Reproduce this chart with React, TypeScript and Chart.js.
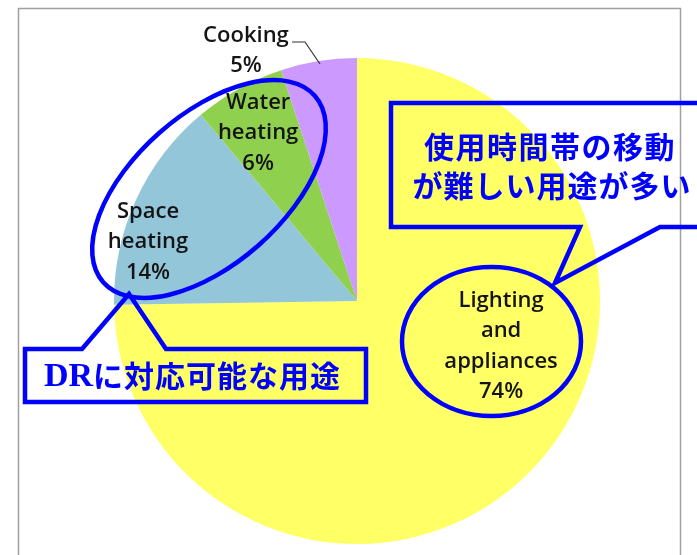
import React, { useEffect, useRef } from "react";
import { Chart, registerables } from "chart.js";

Chart.register(...registerables);

const categories = ["Lighting and appliances", "Space heating", "Water heating", "Cooking"];
const values = [74, 14, 6, 5];
const sliceColors = ["#FFFF66", "#93C6D9", "#8FD14F", "#CC99FF"];
const calloutTopLines = ["使用時間帯の移動", "が難しい用途が多い"];
const calloutBottomLatin = "DR";
const calloutBottomJa = "に対応可能な用途";

// label block centres, as fractions of the pie radius from the pie centre
const labelOffsets = [
  [0.593, 0.187],
  [-0.86, -0.243],
  [-0.407, -0.691],
  [-0.457, -1.03],
];

const annotationPlugin = {
  id: "annotations",
  beforeDraw(chart: any) {
    const ctx = chart.ctx;
    ctx.save();
    ctx.strokeStyle = "#a0a0a0";
    ctx.lineWidth = 1.5;
    ctx.strokeRect(18.5, 8.5, 662, 548);
    ctx.restore();
  },
  afterDraw(chart: any) {
    const ctx = chart.ctx;
    const arc = chart.getDatasetMeta(0).data[0];
    const cx = arc.x;
    const cy = arc.y;
    const r = arc.outerRadius;
    ctx.save();
    // slice labels
    ctx.font = "600 22px 'Open Sans'";
    ctx.fillStyle = "#141414";
    ctx.textAlign = "center";
    ctx.textBaseline = "middle";
    const lh = 30.5;
    categories.forEach((cat, i) => {
      const lines = [...cat.split(" "), `${values[i]}%`];
      const bx = cx + labelOffsets[i][0] * r;
      const by = cy + labelOffsets[i][1] * r;
      lines.forEach((ln, k) => {
        ctx.fillText(ln, bx, by + (k - (lines.length - 1) / 2) * lh);
      });
    });
    // leader line for Cooking
    ctx.strokeStyle = "#333";
    ctx.lineWidth = 1.2;
    ctx.beginPath();
    ctx.moveTo(292, 42);
    ctx.lineTo(305, 42);
    ctx.lineTo(320, 64);
    ctx.stroke();

    // blue annotations
    ctx.strokeStyle = "#0000FF";
    ctx.lineWidth = 4.5;
    ctx.lineJoin = "miter";
    ctx.beginPath();
    ctx.ellipse(209, 189, 141, 75, (-41.4 * Math.PI) / 180, 0, Math.PI * 2);
    ctx.stroke();
    ctx.beginPath();
    ctx.ellipse(491.5, 341.5, 89.5, 74.5, 0, 0, Math.PI * 2);
    ctx.stroke();

    // top callout
    ctx.beginPath();
    ctx.moveTo(391, 103);
    ctx.lineTo(705, 103);
    ctx.lineTo(705, 227);
    ctx.lineTo(660, 227);
    ctx.lineTo(555, 283);
    ctx.lineTo(580, 227);
    ctx.lineTo(391, 227);
    ctx.closePath();
    ctx.stroke();

    // bottom callout
    ctx.beginPath();
    ctx.moveTo(25, 349);
    ctx.lineTo(82, 349);
    ctx.lineTo(129, 294);
    ctx.lineTo(166, 349);
    ctx.lineTo(366, 349);
    ctx.lineTo(366, 402);
    ctx.lineTo(25, 402);
    ctx.closePath();
    ctx.stroke();

    ctx.fillStyle = "#0000FF";
    ctx.font = "bold 30px 'Noto Sans CJK JP'";
    ctx.textAlign = "center";
    (ctx as any).letterSpacing = "1.5px";
    ctx.fillText(calloutTopLines[0], 550, 147);
    (ctx as any).letterSpacing = "1px";
    ctx.fillText(calloutTopLines[1], 552, 186);

    ctx.textAlign = "left";
    (ctx as any).letterSpacing = "0px";
    ctx.font = "bold 34px 'Liberation Serif'";
    ctx.fillText(calloutBottomLatin, 44, 377);
    const w = ctx.measureText(calloutBottomLatin).width;
    ctx.font = "bold 30px 'Noto Sans CJK JP'";
    (ctx as any).letterSpacing = "1px";
    ctx.fillText(calloutBottomJa, 44 + w, 376);
    ctx.restore();
  },
};

export default function App() {
  const ref = useRef<HTMLCanvasElement | null>(null);
  useEffect(() => {
    if (!ref.current) return;
    const chart = new Chart(ref.current, {
      type: "pie",
      data: {
        labels: categories,
        datasets: [
          {
            data: values,
            backgroundColor: sliceColors,
            borderWidth: 0,
          },
        ],
      },
      options: {
        responsive: false,
        animation: false,
        layout: { padding: { left: 114, right: 97, top: 58, bottom: 11 } },
        plugins: {
          legend: { display: false },
          tooltip: { enabled: false },
        },
      },
      plugins: [annotationPlugin],
    });
    return () => chart.destroy();
  }, []);
  return (
    <div style={{ position: "fixed", left: 0, top: 0, width: 697, height: 555, background: "#fff" }}>
      <canvas ref={ref} width={697} height={555} style={{ display: "block" }} />
    </div>
  );
}
